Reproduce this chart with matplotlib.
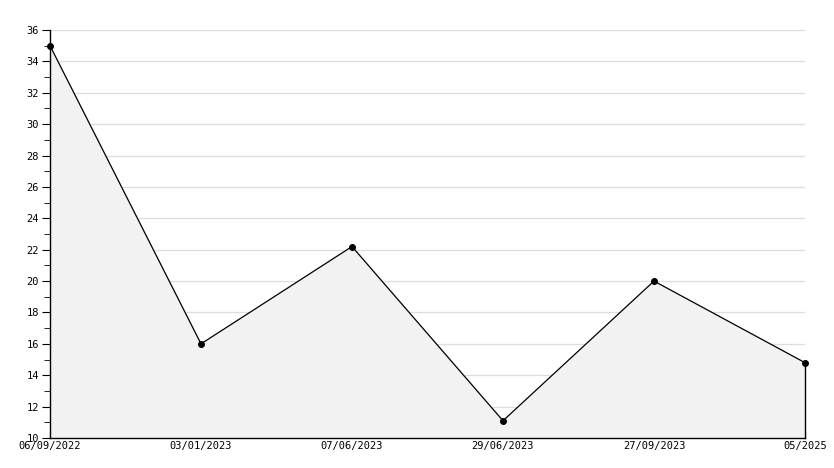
import matplotlib
matplotlib.use('Agg')
import matplotlib.pyplot as plt
from matplotlib.ticker import MultipleLocator

dates = ['06/09/2022', '03/01/2023', '07/06/2023', '29/06/2023', '27/09/2023', '05/2025']
values = [35, 16, 22.2, 11.1, 20, 14.8]

plt.rcParams['font.family'] = 'DejaVu Sans Mono'

fig = plt.figure(figsize=(8.34, 4.68), dpi=100)
ax = fig.add_axes([50 / 834, 1 - 438 / 468, 755 / 834, 408 / 468])

x = list(range(len(values)))

# filled area under the line, grid sits below it
ax.fill_between(x, values, 10, color='#f2f2f2', zorder=2)
ax.plot([x[-1], x[-1]], [10, values[-1]], color='black', lw=1, zorder=3, clip_on=False)
ax.plot(x, values, color='black', lw=0.9, marker='o', markersize=4, zorder=4, clip_on=False)

ax.set_xlim(0, len(values) - 1)
ax.set_ylim(10, 36)
ax.yaxis.set_major_locator(MultipleLocator(2))
ax.yaxis.set_minor_locator(MultipleLocator(1))
ax.grid(axis='y', which='major', color='#dddddd', lw=0.9, zorder=0)
ax.set_axisbelow(True)

ax.set_xticks(x)
ax.set_xticklabels(dates)
ax.tick_params(axis='x', direction='in', length=5, pad=2, labelsize=7.5)
ax.tick_params(axis='y', which='major', direction='out', length=6, labelsize=7.5, pad=2)
ax.tick_params(axis='y', which='minor', direction='out', length=4)

for s in ['top', 'right']:
    ax.spines[s].set_visible(False)
ax.spines['left'].set_linewidth(1)
ax.spines['bottom'].set_linewidth(1)

fig.savefig('out.png', dpi=100)
